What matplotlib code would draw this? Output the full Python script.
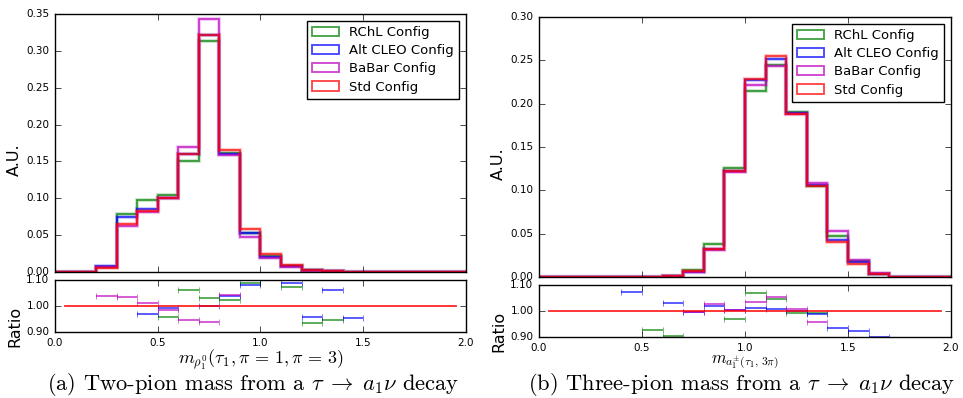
import numpy as np
import matplotlib
matplotlib.use("Agg")
import matplotlib.pyplot as plt

plt.style.use("classic")
plt.rcParams["figure.facecolor"] = "white"
plt.rcParams["savefig.facecolor"] = "white"
plt.rcParams["mathtext.fontset"] = "cm"
plt.rcParams["axes.unicode_minus"] = False

nan = np.nan
edges = np.round(np.arange(0.0, 2.01, 0.1), 2)
centers = 0.5 * (edges[:-1] + edges[1:])

labels = ["RChL Config", "Alt CLEO Config", "BaBar Config", "Std Config"]
colors = ["g", "b", "m", "r"]

# (a) two-pion mass
rchl_a = [0, 0, 0.007, 0.078, 0.097, 0.104, 0.151, 0.313, 0.162, 0.053,
          0.022, 0.008, 0.003, 0.001, 0, 0, 0, 0, 0, 0]
cleo_a = [0, 0, 0.008, 0.074, 0.086, 0.101, 0.160, 0.322, 0.160, 0.053,
          0.021, 0.008, 0.003, 0.001, 0, 0, 0, 0, 0, 0]
babar_a = [0, 0, 0.007, 0.063, 0.082, 0.100, 0.169, 0.343, 0.159, 0.048,
           0.019, 0.007, 0.002, 0.001, 0, 0, 0, 0, 0, 0]
std_a = [0, 0, 0.006, 0.065, 0.083, 0.100, 0.160, 0.322, 0.166, 0.058,
         0.024, 0.009, 0.003, 0.001, 0, 0, 0, 0, 0, 0]

# ratios to Std (only the points visible inside 0.9-1.1)
rchl_ratio_a = [nan, nan, nan, nan, nan, 0.958, 1.060, 1.030, 1.023, 1.088,
                nan, 1.072, 0.934, 0.948, nan, nan, nan, nan, nan, nan]
cleo_ratio_a = [nan, nan, nan, nan, 0.970, 0.993, nan, 1.000, 1.038, 1.080,
                nan, 1.090, 0.957, 1.062, 0.953, nan, nan, nan, nan, nan]
babar_ratio_a = [nan, nan, 1.040, 1.033, 1.010, 0.985, 0.946, 0.940, 1.043, nan,
                 nan, nan, nan, nan, nan, nan, nan, nan, nan, nan]
std_ratio_a = [1.0] * 20

# (b) three-pion mass
rchl_b = [0, 0, 0, 0, 0, 0, 0.0015, 0.008, 0.038, 0.126,
          0.215, 0.245, 0.190, 0.105, 0.047, 0.018, 0.004, 0, 0, 0]
cleo_b = [0, 0, 0, 0, 0, 0, 0.0015, 0.006, 0.032, 0.122,
          0.227, 0.252, 0.189, 0.106, 0.043, 0.017, 0.004, 0, 0, 0]
babar_b = [0, 0, 0, 0, 0, 0, 0.001, 0.006, 0.031, 0.121,
           0.222, 0.243, 0.188, 0.109, 0.053, 0.020, 0.005, 0, 0, 0]
std_b = [0, 0, 0, 0, 0, 0, 0.001, 0.007, 0.032, 0.122,
         0.229, 0.255, 0.188, 0.105, 0.040, 0.015, 0.004, 0, 0, 0]

rchl_ratio_b = [nan, nan, nan, nan, nan, 0.926, 0.903, nan, nan, 0.968,
                1.071, 1.045, 0.992, 0.993, nan, nan, nan, nan, nan, nan]
cleo_ratio_b = [nan, nan, nan, nan, 1.074, nan, 1.030, 0.997, 1.018, 1.004,
                1.010, 1.008, 1.000, 0.990, 0.936, 0.923, 0.901, nan, nan, nan]
babar_ratio_b = [nan, nan, nan, nan, nan, nan, nan, 0.997, 1.027, 1.002,
                 1.036, 1.052, 1.009, 0.957, nan, nan, nan, nan, nan, nan]
std_ratio_b = [1.0] * 20

fig = plt.figure(figsize=(9.63, 3.98), dpi=100)

panels = [
    dict(main=[0.0571, 0.3166, 0.4268, 0.6482], ratio=[0.0571, 0.1658, 0.4268, 0.1307],
         hists=[rchl_a, cleo_a, babar_a, std_a],
         ratios=[rchl_ratio_a, cleo_ratio_a, babar_ratio_a],
         std_ratio=std_ratio_a, ymax=0.35,
         xlabel=r"$m_{\rho_1^0}(\tau_1, \pi\,=\,1, \pi\,=\,3)$", xlsize=13, xlpad=0,
         caption=r"(a) Two-pion mass from a $\tau\;\rightarrow\;a_1\nu$ decay", cx=0.263),
    dict(main=[0.5597, 0.3040, 0.4278, 0.6533], ratio=[0.5597, 0.1533, 0.4278, 0.1307],
         hists=[rchl_b, cleo_b, babar_b, std_b],
         ratios=[rchl_ratio_b, cleo_ratio_b, babar_ratio_b],
         std_ratio=std_ratio_b, ymax=0.30,
         xlabel=r"$m_{a_1^{\pm}(\tau_1,\, 3\pi)}$", xlsize=12, xlpad=0,
         caption=r"(b) Three-pion mass from a $\tau\;\rightarrow\;a_1\nu$ decay", cx=0.770),
]

for p in panels:
    ax = fig.add_axes(p["main"])
    axr = fig.add_axes(p["ratio"], sharex=ax)

    for vals, col, lab in zip(p["hists"], colors, labels):
        ax.hist(centers, bins=edges, weights=vals, histtype="step",
                color=col, lw=3, alpha=0.2)
        ax.hist(centers, bins=edges, weights=vals, histtype="step",
                color=col, lw=1.3, alpha=0.75, label=lab)
    ax.set_xlim(0, 2.0)
    ax.set_ylim(0, p["ymax"])
    ax.set_yticks(np.arange(0, p["ymax"] + 0.001, 0.05))
    ax.tick_params(labelsize=7.5, labelbottom=False)
    ax.set_ylabel("A.U.", fontsize=11.5)
    ax.yaxis.set_label_coords(-0.08, 0.434)
    ax.legend(loc="upper right", fontsize=9.5, borderaxespad=0.5,
              handlelength=2.0, handletextpad=0.8, labelspacing=0.4)

    for vals, col in zip(p["ratios"], colors[:3]):
        axr.errorbar(centers, vals, xerr=0.05, fmt="none", ecolor=col,
                     elinewidth=1.2, capsize=2, alpha=0.75)
    axr.plot(centers, p["std_ratio"], color="r", lw=1.3, alpha=0.85)
    axr.set_xlim(0, 2.0)
    axr.set_ylim(0.9, 1.1)
    axr.set_yticks([0.9, 1.0, 1.1])
    axr.set_yticklabels(["0.90", "1.00", "1.10"])
    axr.set_xticks([0.0, 0.5, 1.0, 1.5, 2.0])
    axr.set_xticklabels(["0.0", "0.5", "1.0", "1.5", "2.0"])
    axr.tick_params(labelsize=7.5)
    axr.set_ylabel("Ratio", fontsize=11.5)
    axr.yaxis.set_label_coords(-0.08, 0.1)
    axr.set_xlabel(p["xlabel"], fontsize=p["xlsize"], labelpad=p["xlpad"])

    fig.text(p["cx"], 0.034, p["caption"], ha="center", va="center",
             fontsize=16.2, family="cmr10")

fig.savefig("out.png", dpi=100)
